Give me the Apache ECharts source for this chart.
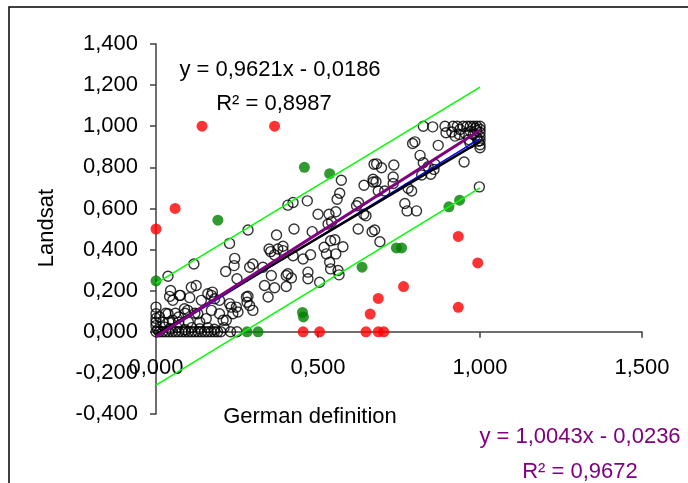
<!DOCTYPE html>
<html>
<head>
<meta charset="utf-8">
<style>
  html, body { margin: 0; padding: 0; background: #fff; }
  #main { width: 688px; height: 483px; }
</style>
<script src="https://cdn.jsdelivr.net/npm/echarts@6/dist/echarts.min.js"></script>
</head>
<body>
<div id="main"></div>
<script>
// open circles: German definition (x) vs Landsat (y)
const openPoints = [
  [0,0],[0.01,0],[0.02,0],[0.03,0],[0.04,0],[0.05,0],[0.06,0],[0.07,0],[0.08,0],[0.09,0],[0.1,0],[0.11,0],
  [0.12,0],[0.13,0],[0.14,0],[0.15,0],[0.16,0],[0.17,0],[0.18,0],[0.19,0],[0.2,0],[0.23,0],[0.25,0],
  [0.005,0.01],[0.026,0.023],[0.045,0.015],[0.065,0.02],[0.09,0.01],[0.11,0.02],[0.135,0.015],[0.16,0.02],
  [0.18,0.012],[0.21,0.02],
  [0,0.03],[0,0.047],[0,0.065],[0,0.088],[0,0.12],
  [0.011,0.072],[0.021,0.047],[0.037,0.088],[0.052,0.056],[0.07,0.072],[0.088,0.112],[0.098,0.104],
  [0.129,0.088],[0.155,0.064],[0.171,0.104],[0.196,0.088],[0.207,0.056],[0.217,0.056],[0.237,0.088],
  [0.253,0.096],[0.227,0.137],[0.232,0.12],[0.248,0.12],[0.279,0.169],[0.281,0.144],[0.289,0.128],
  [0.299,0.104],[0.16,0.185],[0.174,0.193],[0.181,0.161],[0.196,0.153],[0.042,0.172],[0.075,0.177],
  [0.104,0.166],[0.14,0.153],[0.171,0.177],[0.03,0.09],[0.06,0.09],[0.09,0.09],[0.12,0.09],[0.04,0.047],
  [0.07,0.047],[0.1,0.047],[0.135,0.047],[0.045,0.201],[0.052,0.153],[0.073,0.177],[0.109,0.217],
  [0.124,0.225],[0.117,0.33],[0.037,0.27],[0.284,0.173],
  [0.227,0.43],[0.284,0.495],[0.243,0.357],[0.241,0.322],[0.215,0.293],[0.25,0.258],[0.299,0.33],
  [0.289,0.314],[0.335,0.225],[0.366,0.214],[0.346,0.169],[0.402,0.22],
  [0.372,0.471],[0.426,0.5],[0.482,0.487],[0.354,0.39],[0.376,0.403],[0.392,0.416],[0.392,0.395],
  [0.366,0.374],[0.349,0.403],[0.423,0.37],[0.454,0.354],[0.477,0.375],[0.519,0.411],[0.539,0.443],
  [0.552,0.448],[0.577,0.414],[0.526,0.379],[0.555,0.379],[0.536,0.338],[0.539,0.306],[0.562,0.298],
  [0.565,0.277],[0.33,0.314],[0.356,0.274],[0.402,0.274],[0.418,0.262],[0.407,0.282],[0.469,0.29],
  [0.469,0.258],[0.505,0.241],
  [0.407,0.616],[0.423,0.629],[0.467,0.637],[0.572,0.737],[0.567,0.674],[0.559,0.645],[0.642,0.713],
  [0.67,0.729],[0.673,0.815],[0.5,0.572],[0.534,0.572],[0.555,0.584],[0.542,0.535],[0.625,0.629],
  [0.619,0.613],[0.648,0.564],[0.531,0.524],[0.624,0.5],[0.667,0.487],[0.675,0.495],[0.691,0.438],
  [0.641,0.572],
  [0.825,1.0],[0.854,0.997],[0.892,1.0],[0.895,0.968],[0.913,0.972],[0.917,1.0],[0.93,1.0],[0.938,0.984],
  [0.936,0.96],[0.923,0.952],[0.948,1.0],[0.979,0.96],[0.995,0.927],[1.0,0.895],[0.969,0.919],
  [0.792,0.916],[0.799,0.924],[0.871,0.907],[0.815,0.858],[0.825,0.822],[0.951,0.826],[0.861,0.815],
  [0.84,0.803],[0.858,0.79],[0.681,0.817],[0.696,0.798],[0.734,0.811],[0.732,0.753],[0.82,0.763],
  [0.848,0.766],[0.67,0.742],[0.679,0.73],[0.732,0.721],[0.706,0.685],[0.686,0.685],[0.778,0.698],
  [0.789,0.685],[0.768,0.624],[0.775,0.588],[0.804,0.588],[0.998,0.705],
  [0.96,1.0],[0.97,1.0],[0.98,1.0],[0.99,1.0],[1.0,1.0],[1.0,0.985],[0.99,0.98],[1.0,0.97],[0.985,0.99],
  [1.0,0.95],[1.0,0.93],[0.99,0.945],[1.0,0.91],[0.97,0.975],[0.955,0.965],[0.965,0.935]
];

const redPoints = [
  [0,0.5],[0.059,0.6],[0.142,1.0],[0.366,1.0],[0.454,0],[0.505,0],[0.933,0.464],[0.993,0.335],
  [0.933,0.119],[0.764,0.22],[0.686,0.162],[0.661,0.086],[0.648,0],[0.686,0],[0.703,0]
];

const greenPoints = [
  [0,0.248],[0.191,0.543],[0.458,0.8],[0.536,0.769],[0.452,0.094],[0.455,0.072],[0.281,0],[0.315,0],
  [0.636,0.314],[0.742,0.408],[0.758,0.408],[0.904,0.608],[0.937,0.64]
];

// trend lines and band
const upperBand = [[0, 0.236], [1, 1.19]];
const lowerBand = [[0, -0.26], [1, 0.70]];
const blueLine = [[0, -0.025], [1, 0.94]];
const blackLine = [[0, -0.012], [1, 0.925]];
const purpleLine = [[0, -0.0236], [1, 0.98]];

const fitText1 = ['y = 0,9621x - 0,0186', 'R² = 0,8987'];
const fitText2 = ['y = 1,0043x - 0,0236', 'R² = 0,9672'];

const font = "'Liberation Sans', Arial, sans-serif";
const fs = 22;

function fmt(v) {
    if (Math.abs(v) < 1e-9) v = 0;
    return v.toFixed(3).replace('.', ',');
}

function lineSeries(data, color, width) {
    return {
        type: 'line',
        data: data,
        showSymbol: false,
        silent: true,
        lineStyle: { color: color, width: width }
    };
}

const option = {
    animation: false,
    backgroundColor: '#fff',
    grid: { left: 156, right: 46, top: 44, bottom: 69 },
    xAxis: {
        type: 'value',
        min: 0,
        max: 1.5,
        interval: 0.5,
        splitLine: { show: false },
        axisLine: { onZero: true, lineStyle: { color: '#404040', width: 1.5 } },
        axisTick: { show: true, length: 6, lineStyle: { color: '#404040', width: 1.5 } },
        axisLabel: { color: '#000', fontSize: fs, fontFamily: font, margin: -57, formatter: fmt, showMinLabel: true, showMaxLabel: true }
    },
    yAxis: {
        type: 'value',
        min: -0.4,
        max: 1.4,
        interval: 0.2,
        splitLine: { show: false },
        axisLine: { show: true, onZero: false, lineStyle: { color: '#404040', width: 1.5 } },
        axisTick: { show: true, length: 6, lineStyle: { color: '#404040', width: 1.5 } },
        axisLabel: { color: '#000', fontSize: fs, fontFamily: font, margin: 18, formatter: fmt, showMinLabel: true, showMaxLabel: true }
    },
    series: [
        lineSeries(upperBand, '#00ff00', 1.5),
        lineSeries(lowerBand, '#00ff00', 1.5),
        {
            type: 'scatter',
            data: openPoints,
            symbol: 'circle',
            symbolSize: 10,
            itemStyle: { color: 'rgba(0,0,0,0)', borderColor: '#000', borderWidth: 1.4 }
        },
        lineSeries(blueLine, '#0000ff', 1.5),
        lineSeries(blackLine, '#000', 2.5),
        lineSeries(purpleLine, '#800080', 3),
        {
            type: 'scatter',
            data: redPoints,
            symbolSize: 11,
            itemStyle: { color: '#ff0000' }
        },
        {
            type: 'scatter',
            data: greenPoints,
            symbolSize: 11,
            itemStyle: { color: '#008000' }
        }
    ],
    graphic: [
        { type: 'rect', shape: { x: 9, y: 7, width: 720, height: 520 }, style: { fill: 'none', stroke: '#000', lineWidth: 1.5 }, z: -1 },
        { type: 'text', x: 47, y: 228, rotation: Math.PI / 2,
          style: { text: 'Landsat', font: fs + 'px ' + font, fill: '#000', textAlign: 'center', textVerticalAlign: 'middle' } },
        { type: 'text', x: 310, y: 417,
          style: { text: 'German definition', font: fs + 'px ' + font, fill: '#000', textAlign: 'center', textVerticalAlign: 'middle' } },
        { type: 'text', x: 280, y: 70,
          style: { text: fitText1[0], font: fs + 'px ' + font, fill: '#000', textAlign: 'center', textVerticalAlign: 'middle' } },
        { type: 'text', x: 274, y: 104,
          style: { text: fitText1[1], font: fs + 'px ' + font, fill: '#000', textAlign: 'center', textVerticalAlign: 'middle' } },
        { type: 'text', x: 580, y: 437,
          style: { text: fitText2[0], font: fs + 'px ' + font, fill: '#800080', textAlign: 'center', textVerticalAlign: 'middle' } },
        { type: 'text', x: 580, y: 472,
          style: { text: fitText2[1], font: fs + 'px ' + font, fill: '#800080', textAlign: 'center', textVerticalAlign: 'middle' } }
    ]
};

const myChart = echarts.init(document.getElementById('main'));
myChart.setOption(option);
</script>
</body>
</html>
